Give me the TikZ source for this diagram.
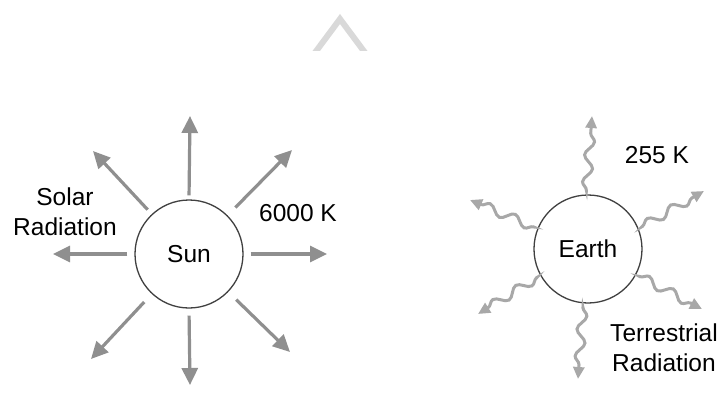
\documentclass[tikz,border=0pt]{standalone}
\usepackage{fontspec}
\setmainfont{Liberation Sans}
\usetikzlibrary{arrows.meta,decorations.pathmorphing}
\definecolor{sunarrow}{gray}{0.56}
\definecolor{eartharrow}{gray}{0.66}
\definecolor{caretgray}{gray}{0.85}
\definecolor{rim}{gray}{0.25}
\begin{document}
\begin{tikzpicture}[x=1pt,y=-1pt,
  body/.style={circle,draw=rim,line width=1.3pt,minimum size=108pt,inner sep=0pt,font=\fontsize{24.5}{29}\selectfont},
  lbl/.style={font=\fontsize{24.5}{30}\selectfont,align=center,inner sep=0pt},
  ray/.style={draw=sunarrow,line width=3.2pt,-{Triangle[length=17pt,width=16pt]}},
  wave/.style={draw=eartharrow,line width=3pt,-{Triangle[length=12pt,width=11pt]},shorten <=5pt,
    decorate,decoration={snake,amplitude=4.5pt,segment length=27pt,post length=8pt,pre length=4pt}}]
\useasboundingbox (0,0) rectangle (721,392);
% caret mark at the top
\begin{scope}
  \clip (300,0) rectangle (380,50);
  \draw[caretgray,line width=6pt] (312.5,56) -- (340,19) -- (367.5,56);
\end{scope}
% Sun
\node[body] (sun) at (189,254) {Sun};
\coordinate (sN) at (190,116);
\coordinate (sE) at (327,254);
\coordinate (sS) at (190,385);
\coordinate (sW) at (53,254);
\coordinate (sNE) at (292,150);
\coordinate (sNW) at (93,151);
\coordinate (sSW) at (91,359);
\coordinate (sSE) at (290,352);
\draw[ray,shorten <=4pt] (sun.north) -- (sN);
\draw[ray,shorten <=7pt] (sun.east) -- (sE);
\draw[ray,shorten <=7pt] (sun.south) -- (sS);
\draw[ray,shorten <=7pt] (sun.west) -- (sW);
\draw[ray,shorten <=11pt] (sun.45) -- (sNE);
\draw[ray,shorten <=6pt] (sun.133) -- (sNW);
\draw[ray,shorten <=11pt] (sun.227) -- (sSW);
\draw[ray,shorten <=11pt] (sun.316) -- (sSE);
\node[lbl] (solar) at (65,212) {Solar\\Radiation};
\node[lbl] (tsun) at (298,213) {6000 K};
% Earth
\node[body] (earth) at (588,249) {Earth};
\coordinate (eN) at (592,116);
\coordinate (eNE) at (704,191);
\coordinate (eNW) at (470,200);
\coordinate (eSW) at (478,314);
\coordinate (eSE) at (702,309);
\coordinate (eS) at (578,379);
\draw[wave] (earth.92) -- (eN);
\draw[wave] (earth.22) -- (eNE);
\draw[wave] (earth.158) -- (eNW);
\draw[wave] (earth.209) -- (eSW);
\draw[wave] (earth.332) -- (eSE);
\draw[wave] (earth.265) -- (eS);
\node[lbl] (tearth) at (657,155) {255 K};
\node[lbl] (terr) at (664,348) {Terrestrial\\Radiation};
\end{tikzpicture}
\end{document}
